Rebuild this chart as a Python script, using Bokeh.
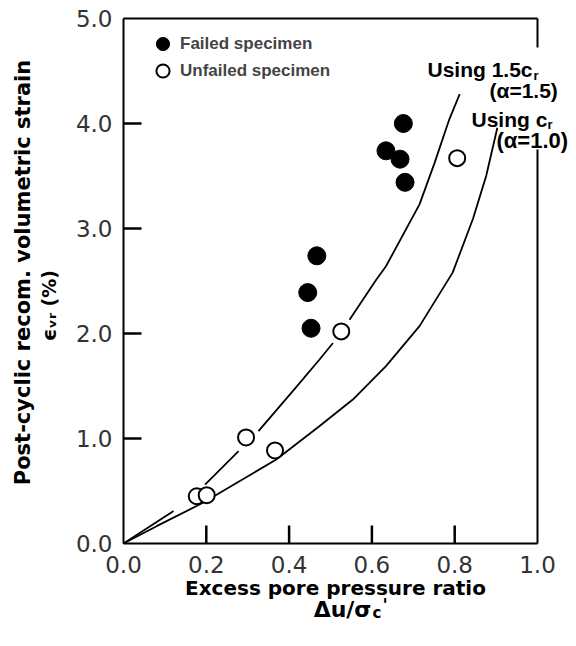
import math
from bokeh.plotting import figure
from bokeh.models import (Range1d, FixedTicker, NumeralTickFormatter, Label,
                          Legend, LegendItem, LinearAxis)
from bokeh.embed import file_html
from bokeh.resources import INLINE

nan = float("nan")

# ---- data ----
failed_x = [0.676, 0.634, 0.668, 0.680, 0.467, 0.445, 0.453]
failed_y = [4.00, 3.74, 3.66, 3.44, 2.74, 2.39, 2.05]

unfailed_x = [0.806, 0.526, 0.296, 0.366, 0.177, 0.201]
unfailed_y = [3.67, 2.02, 1.01, 0.886, 0.45, 0.46]

# curve "Using 1.5 c_r (alpha=1.5)" (breaks where the drawing is interrupted)
upper_x = [0.0, 0.121, nan, 0.197, 0.278, nan, 0.326, 0.413, 0.473, 0.506,
           nan, 0.546, 0.610, 0.634, 0.715, 0.751, 0.787, 0.812]
upper_y = [0.0, 0.31, nan, 0.56, 0.88, nan, 1.07, 1.47, 1.75, 1.91,
           nan, 2.13, 2.51, 2.64, 3.23, 3.62, 4.04, 4.28]

# curve "Using c_r (alpha=1.0)"
lower_x = [0.0, 0.080, 0.193, 0.369, 0.473, 0.554, 0.634, 0.715, 0.795,
           0.844, 0.876, 0.903]
lower_y = [0.0, 0.165, 0.39, 0.80, 1.117, 1.371, 1.69, 2.07, 2.58,
           3.09, 3.50, 3.96]

x_ticks = [0.0, 0.2, 0.4, 0.6, 0.8, 1.0]
y_ticks = [0.0, 1.0, 2.0, 3.0, 4.0, 5.0]

# ---- layout: the frame fills the whole canvas; axes sit at fixed places ----
W, H = 575, 636
XPX, YPX = 414.0, 105.0          # pixels per data unit
X0 = -123.0 / XPX
Y1 = 543.0 / YPX
TICK = 18                         # inward tick length in pixels
p = figure(width=W, height=H, output_backend="svg", toolbar_location=None,
           x_range=Range1d(X0, X0 + W / XPX), y_range=Range1d(Y1 - H / YPX, Y1),
           x_axis_location=None, y_axis_location=None,
           min_border=0, min_border_left=0, min_border_right=0,
           min_border_top=0, min_border_bottom=0)
p.grid.visible = False
p.outline_line_color = None
p.background_fill_color = "white"
p.border_fill_color = "white"


def style_axis(ax):
    ax.axis_line_width = 2
    ax.axis_line_color = "black"
    ax.major_tick_line_color = None
    ax.major_tick_in = 0
    ax.major_tick_out = 0
    ax.minor_tick_line_color = None
    ax.major_label_text_font = "DejaVu Sans"
    ax.major_label_text_font_size = "23px"
    ax.major_label_text_color = "#333333"
    ax.formatter = NumeralTickFormatter(format="0.0")


xax = LinearAxis(fixed_location=y_ticks[0], bounds=(x_ticks[0], x_ticks[-1]),
                 ticker=FixedTicker(ticks=x_ticks))
style_axis(xax)
xax.major_label_standoff = 12
p.add_layout(xax, "below")

yax = LinearAxis(fixed_location=x_ticks[0], bounds=(y_ticks[0], y_ticks[-1]),
                 ticker=FixedTicker(ticks=y_ticks))
style_axis(yax)
yax.major_label_standoff = 11
p.add_layout(yax, "left")

# inward tick marks at the tick positions
inner_x = x_ticks[1:-1]
inner_y = y_ticks[1:-1]
p.multi_line(xs=[[v, v] for v in inner_x],
             ys=[[y_ticks[0], y_ticks[0] + TICK / YPX] for _ in inner_x],
             line_color="black", line_width=2.5)
p.multi_line(xs=[[x_ticks[0], x_ticks[0] + TICK / XPX] for _ in inner_y],
             ys=[[v, v] for v in inner_y],
             line_color="black", line_width=2.5)

# frame top and right (right side interrupted by the curve captions)
for loc, fixed, bnds in (("above", y_ticks[-1], (x_ticks[0], x_ticks[-1])),
                         ("right", x_ticks[-1], (y_ticks[0], 3.75)),
                         ("right", x_ticks[-1], (4.72, y_ticks[-1]))):
    a = LinearAxis(fixed_location=fixed, bounds=bnds,
                   ticker=FixedTicker(ticks=[]))
    a.axis_line_width = 2
    a.major_tick_line_color = None
    a.minor_tick_line_color = None
    a.major_label_text_font_size = "0px"
    p.add_layout(a, loc)

p.line(upper_x, upper_y, line_color="black", line_width=1.8)
p.line(lower_x, lower_y, line_color="black", line_width=1.8)

r_f = p.scatter(failed_x, failed_y, marker="circle", size=18,
                fill_color="black", line_color="black")
r_u = p.scatter(unfailed_x, unfailed_y, marker="circle", size=16,
                fill_color="white", line_color="black", line_width=2)

# legend (one legend per row so the rows sit 27px apart)
for label, rend, ytop in (("Failed specimen", r_f, 576),
                          ("Unfailed specimen", r_u, 549)):
    lg = Legend(items=[LegendItem(label=label, renderers=[rend])],
                location=(146, ytop), glyph_width=33, glyph_height=33,
                padding=0, margin=0, label_standoff=1,
                background_fill_alpha=0, border_line_alpha=0,
                label_text_font="Liberation Sans", label_text_font_style="bold",
                label_text_font_size="17px", label_text_baseline="middle")
    p.add_layout(lg)


def px(xp):
    return (xp - 124) / XPX


def py(yp):
    return (544 - yp) / YPX


def lab(text, xp, yp, size, font="Liberation Sans", align="left",
        baseline="alphabetic", angle=0.0, style="bold"):
    p.add_layout(Label(x=px(xp), y=py(yp), text=text, text_font=font,
                       text_font_size=size, text_font_style=style,
                       text_align=align, text_baseline=baseline,
                       angle=angle, text_color="black"))


# curve annotations
lab("Using 1.5c", 428, 70, "21px")
lab("r", 534, 76, "13px")
lab("(\u03b1=1.5)", 490, 91, "21px")
lab("Using c", 472, 120, "21px")
lab("r", 548, 125, "13px")
lab("(\u03b1=1.0)", 497, 141, "22px")

# x axis title
lab("Excess pore pressure ratio", 336, 588, "20px", font="DejaVu Sans",
    align="center", baseline="middle")
lab("\u0394u/\u03c3", 372, 610, "22px", font="DejaVu Sans", align="right")
lab("c", 373, 613, "15px", font="DejaVu Sans")
lab("'", 383, 595, "17px", font="DejaVu Sans", baseline="top")

# y axis title
lab("Post-cyclic recom. volumetric strain", 23, 273, "21px",
    font="DejaVu Sans", align="center", baseline="middle", angle=math.pi / 2)
lab("\u03f5\u1d65\u1d63 (%)", 49, 306, "19px", font="DejaVu Sans",
    align="center", baseline="middle", angle=math.pi / 2)

open("out.html", "w").write(file_html(p, INLINE))
